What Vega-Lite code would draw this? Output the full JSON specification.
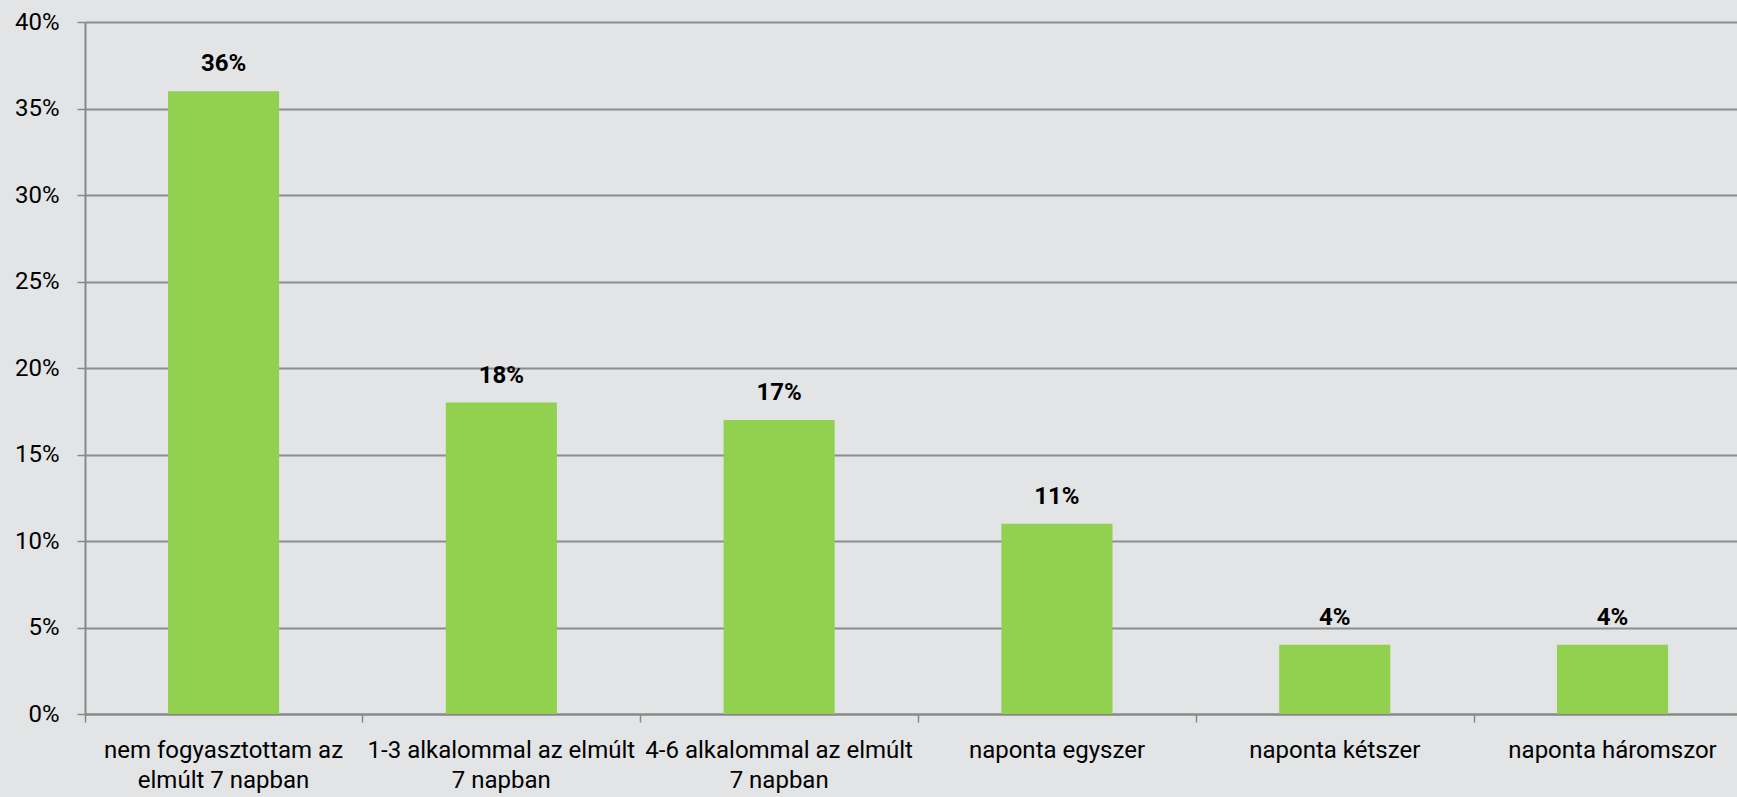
{
  "$schema": "https://vega.github.io/schema/vega-lite/v6.json",
  "width": 1652,
  "height": 692,
  "autosize": {"type": "none"},
  "padding": {"left": 85, "top": 22, "right": 0, "bottom": 83},
  "background": "#e3e4e6",
  "config": {"view": {"stroke": null}, "font": "Roboto"},
  "data": {
    "values": [
      {"category": "nem fogyasztottam az\nelmúlt 7 napban", "value": 0.36},
      {"category": "1-3 alkalommal az elmúlt\n7 napban", "value": 0.18},
      {"category": "4-6 alkalommal az elmúlt\n7 napban", "value": 0.17},
      {"category": "naponta egyszer", "value": 0.11},
      {"category": "naponta kétszer", "value": 0.04},
      {"category": "naponta háromszor", "value": 0.04}
    ]
  },
  "layer": [
    {
      "mark": {"type": "bar", "color": "#92d050"},
      "encoding": {
        "x": {
          "field": "category", "type": "nominal", "sort": null,
          "scale": {"paddingInner": 0.6, "paddingOuter": 0.2734, "align": 0.5464},
          "axis": {
            "orient": "bottom", "title": null, "labels": false, "grid": false,
            "ticks": true, "tickSize": 8, "tickColor": "#888888", "tickWidth": 1.5,
            "bandPosition": 0, "tickOffset": -83.4,
            "domain": true, "domainColor": "#888888", "domainWidth": 2
          }
        },
        "y": {
          "field": "value", "type": "quantitative",
          "scale": {"domain": [0, 0.4]},
          "axis": {
            "title": null, "values": [0, 0.05, 0.1, 0.15, 0.2, 0.25, 0.3, 0.35, 0.4],
            "format": ".0%", "labelFontSize": 24, "labelColor": "#000000",
            "labelPadding": 18, "tickSize": 8, "tickColor": "#888888", "tickWidth": 1.5,
            "domainColor": "#888888", "domainWidth": 2,
            "grid": true, "gridColor": "#8c8c8c", "gridWidth": 1.8
          }
        }
      }
    },
    {
      "mark": {"type": "text", "baseline": "alphabetic", "dy": -20, "fontWeight": "bold", "fontSize": 24, "color": "#000000"},
      "encoding": {
        "x": {
          "field": "category", "type": "nominal", "sort": null,
          "scale": {"paddingInner": 0.6, "paddingOuter": 0.2734, "align": 0.5464},
          "axis": {
            "orient": "bottom", "title": null, "ticks": false, "tickSize": 0, "domain": false, "grid": false,
            "labelExpr": "split(datum.label, '\\n')", "labelFontSize": 24, "labelLineHeight": 30,
            "labelPadding": 24, "labelAngle": 0, "labelLimit": 0, "labelOverlap": false,
            "labelColor": "#000000", "labelBaseline": "top"
          }
        },
        "y": {"field": "value", "type": "quantitative"},
        "text": {"field": "value", "type": "quantitative", "format": ".0%"}
      }
    }
  ],
  "resolve": {"axis": {"x": "independent"}}
}
